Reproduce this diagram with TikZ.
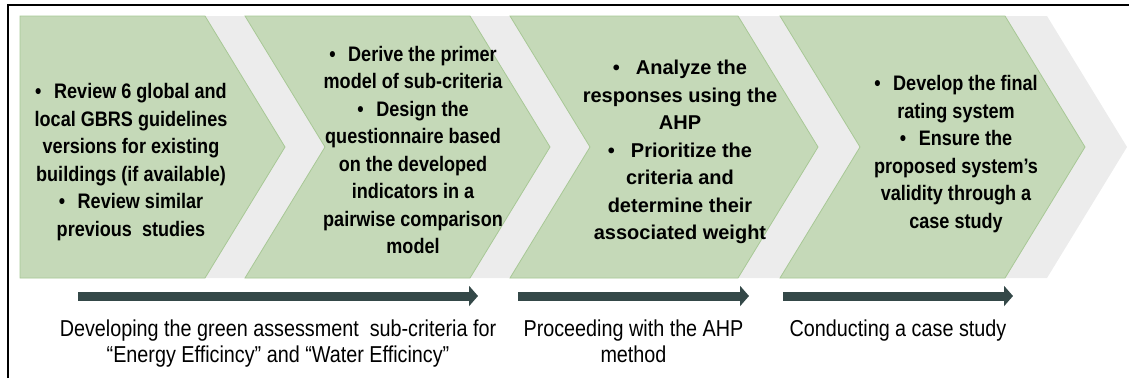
\documentclass[tikz,border=0pt]{standalone}
\usepackage{fontspec}
\setmainfont{Liberation Sans}
\newfontfamily\narrowfont{Liberation Sans}[FakeStretch=0.86]
\usetikzlibrary{arrows.meta,positioning}

\definecolor{stagegreen}{RGB}{197,217,184}
\definecolor{stageedge}{RGB}{168,200,150}
\definecolor{backgrey}{RGB}{236,236,236}
\definecolor{flowarrow}{RGB}{52,72,72}

\begin{document}
\begin{tikzpicture}[x=1pt, y=-1pt,
    stagetext/.style={align=center, inner sep=0pt, font=\narrowfont\bfseries\fontsize{21}{27.5}\selectfont},
    stageshape/.style={fill=stagegreen, draw=stageedge, line width=0.8pt},
    phase/.style={line width=9pt, draw=flowarrow, -{Triangle[length=9pt,width=20pt]}},
    phaselabel/.style={below=19pt, inner sep=0pt, align=center, font=\narrowfont\fontsize{23}{26}\selectfont}]
  \useasboundingbox (0,0) rectangle (1129,378);
  % frame, only top and left show
  \draw[line width=1.8pt] (8,378) -- (8,5) -- (1129,5);

  % grey chevrons behind
  \fill[backgrey] (20,16) -- (245,16) -- (325,147) -- (245,278) -- (20,278) -- cycle;
  \foreach \a/\b in {245/510, 510/780, 780/1047}
    \fill[backgrey] (\a,16) -- (\b,16) -- (\b+80,147) -- (\b,278) -- (\a,278) -- (\a+80,147) -- cycle;

  % green stages
  \filldraw[stageshape] (20,16) -- (205,16) -- (285,147) -- (205,278) -- (20,278) -- cycle;
  \foreach \a/\b in {245/470, 510/738, 780/1005}
    \filldraw[stageshape] (\a,16) -- (\b,16) -- (\b+80,147) -- (\b,278) -- (\a,278) -- (\a+80,147) -- cycle;

  \node[stagetext] (review) at (131,162) {•\hspace{0.6em}Review 6 global and\\local GBRS guidelines\\versions for existing\\buildings (if available)\\•\hspace{0.6em}Review similar\\previous\ \ studies};
  \node[stagetext] (derive) at (413,150) {•\hspace{0.6em}Derive the primer\\model of sub-criteria\\•\hspace{0.6em}Design the\\questionnaire based\\on the developed\\indicators in a\\pairwise comparison\\model};
  \node[stagetext, font=\normalfont\bfseries\fontsize{20}{27.5}\selectfont] (analyze) at (680,152) {•\hspace{0.8em}Analyze the\\responses using the\\AHP\\•\hspace{0.8em}Prioritize the\\criteria and\\determine their\\associated weight};
  \node[stagetext] (final) at (956,154) {•\hspace{0.6em}Develop the final\\rating system\\•\hspace{0.6em}Ensure the\\proposed system’s\\validity through a\\case study};

  % phase arrows with their labels
  \coordinate (p1s) at (78,296);
  \coordinate (p1e) at (478,296);
  \coordinate (p2s) at (518,296);
  \coordinate (p2e) at (749,296);
  \coordinate (p3s) at (783,296);
  \coordinate (p3e) at (1013,296);
  \draw[phase] (p1s) -- node[phaselabel] (develop) {Developing the green assessment\ \ sub-criteria for\\“Energy Efficincy” and “Water Efficincy”} (p1e);
  \draw[phase] (p2s) -- node[phaselabel] (proceed) {Proceeding with the AHP\\method} (p2e);
  \draw[phase] (p3s) -- node[phaselabel] (conduct) {Conducting a case study} (p3e);
\end{tikzpicture}
\end{document}
